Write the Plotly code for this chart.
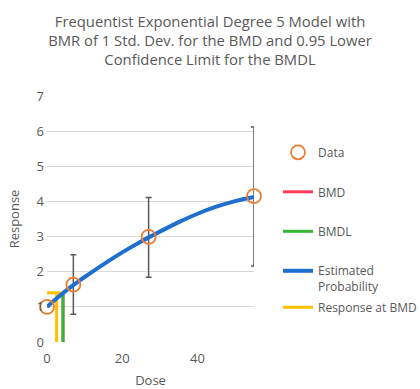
import plotly.graph_objects as go

# Data
dose = [0, 7, 27, 55]
mean_resp = [1.0, 1.63, 2.99, 4.15]
ci_upper = [1.0, 2.48, 4.11, 6.12]
ci_lower = [1.0, 0.79, 1.84, 2.16]

curve_dose = [0, 2, 4, 6, 8, 10, 15, 20, 25, 30, 35, 40, 45, 50, 55]
curve_resp = [1.0, 1.19, 1.37, 1.54, 1.70, 1.85, 2.21, 2.55, 2.86, 3.14, 3.41, 3.65, 3.85, 4.01, 4.13]

bmd_x = [4.25, 4.25]
bmd_y = [0, 1.36]
bmdl_x = [4.25, 4.25]
bmdl_y = [0, 1.36]
resp_bmd_x = [0, 3.8, None, 2.55, 2.55]
resp_bmd_y = [1.40, 1.40, None, 1.40, 0]

x_ticks = [0, 20, 40]
y_ticks = [0, 1, 2, 3, 4, 5, 6, 7]

FONT = "'Open Sans', sans-serif"
GRAY = "#595959"

err_plus = [u - m for u, m in zip(ci_upper, mean_resp)]
err_minus = [m - l for m, l in zip(mean_resp, ci_lower)]

fig = go.Figure()

# error bars (no legend)
fig.add_trace(go.Scatter(
    x=dose, y=mean_resp, mode="markers", showlegend=False, cliponaxis=False,
    marker=dict(size=1, color="rgba(0,0,0,0)"),
    error_y=dict(type="data", symmetric=False, array=err_plus, arrayminus=err_minus,
                 color=GRAY, thickness=1.5, width=3),
    hoverinfo="skip",
))

fig.add_trace(go.Scatter(
    x=bmd_x, y=bmd_y, mode="lines", name="BMD", legendgroup="b", legendrank=2,
    line=dict(color="#FF3B5C", width=3),
))
fig.add_trace(go.Scatter(
    x=bmdl_x, y=bmdl_y, mode="lines", name="BMDL", legendgroup="c", legendrank=3,
    line=dict(color="#35B735", width=3),
))
fig.add_trace(go.Scatter(
    x=resp_bmd_x, y=resp_bmd_y, mode="lines", name="Response at BMD",
    legend="legend2",
    line=dict(color="#FFC000", width=3),
))
fig.add_trace(go.Scatter(
    x=curve_dose, y=curve_resp, mode="lines", name="Estimated<br>Probability",
    legendgroup="d", legendrank=4, cliponaxis=False,
    line=dict(color="#1F6FD1", width=4, shape="spline"),
))
fig.add_trace(go.Scatter(
    x=dose, y=mean_resp, mode="markers", name="Data", legendgroup="a", legendrank=1,
    cliponaxis=False,
    marker=dict(symbol="circle-open", size=14, color="#ED7D31", line=dict(width=1.8)),
))

fig.update_layout(
    width=420, height=389,
    paper_bgcolor="white", plot_bgcolor="white",
    margin=dict(l=47, r=166, t=96, b=47, autoexpand=False),
    font=dict(family=FONT, color=GRAY, size=13),
    title=dict(
        text="Frequentist Exponential Degree 5 Model with<br>BMR of 1 Std. Dev. for the BMD and 0.95 Lower<br>Confidence Limit for the BMDL",
        x=0.5, xanchor="center", y=1 - 27 / 389, yanchor="top",
        font=dict(family=FONT, size=14.8, color=GRAY),
    ),
    xaxis=dict(
        range=[0, 55], tickvals=x_ticks, showgrid=False, zeroline=False,
        showline=False, ticks="", tickfont=dict(size=13, color=GRAY),
        ticklabelstandoff=7,
        title=dict(text="Dose", font=dict(size=13, color=GRAY), standoff=15),
    ),
    yaxis=dict(
        range=[0, 7], tickvals=y_ticks, showgrid=True, gridcolor="#D9D9D9",
        gridwidth=1, zeroline=False, showline=False, ticks="",
        tickfont=dict(size=13, color=GRAY), ticklabelstandoff=2,
        title=dict(text="Response", font=dict(size=13, color=GRAY), standoff=14),
    ),
    legend=dict(
        x=278 / 420, xanchor="left", xref="container",
        y=(389 - 138) / 389, yanchor="top", yref="container",
        traceorder="grouped", tracegroupgap=20.5, valign="top",
        font=dict(size=12, color=GRAY), bgcolor="rgba(0,0,0,0)",
    ),
    legend2=dict(
        x=278 / 420, xanchor="left", xref="container",
        y=(389 - 293) / 389, yanchor="top", yref="container",
        valign="top", font=dict(size=12, color=GRAY), bgcolor="rgba(0,0,0,0)",
    ),
)

fig.write_html("out.html", config={"displayModeBar": False},
               post_script="document.body.style.margin='0';")
